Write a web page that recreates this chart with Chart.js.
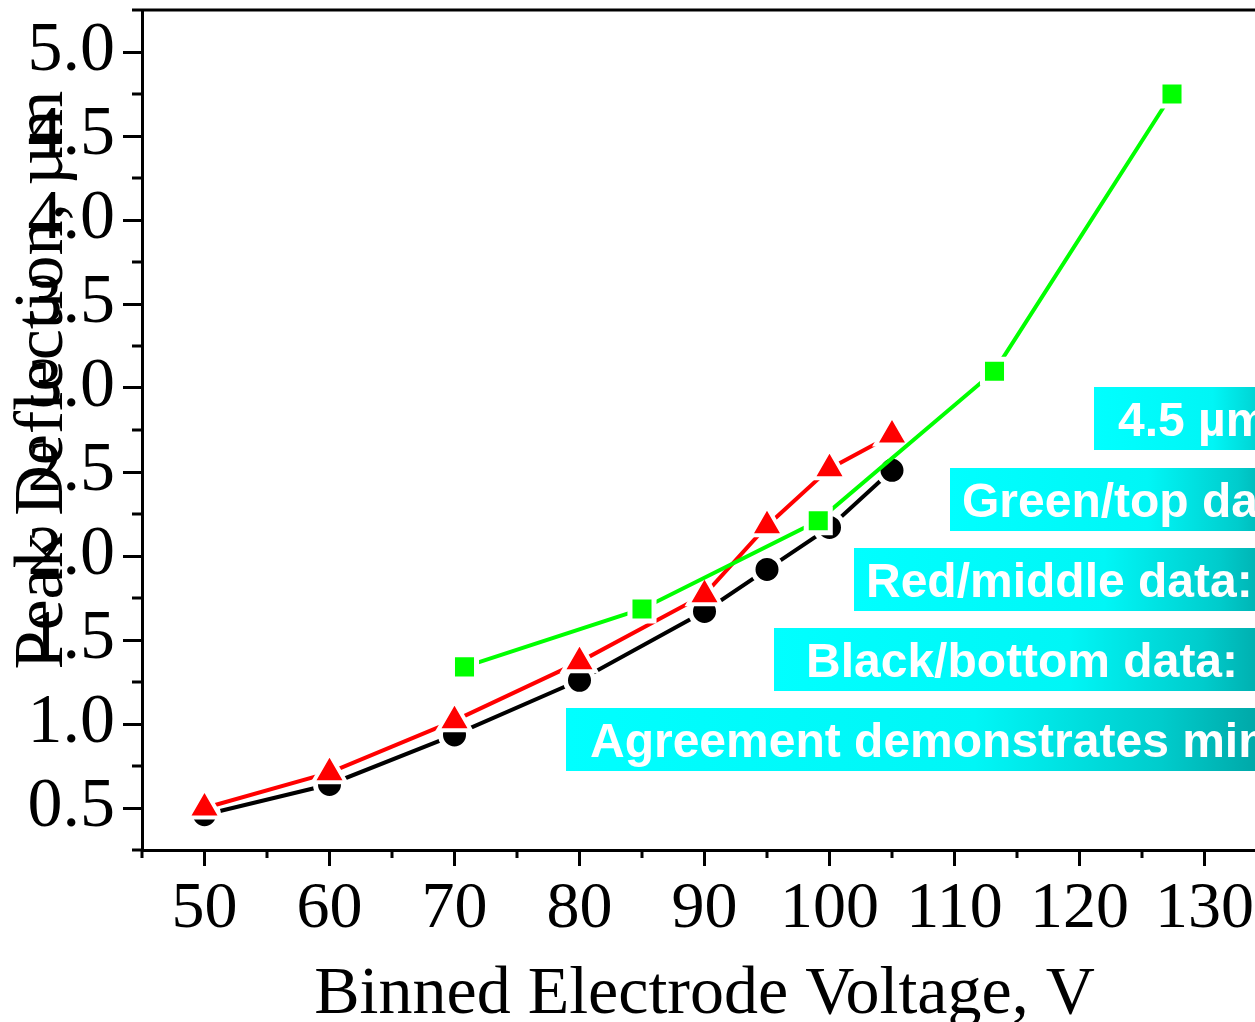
<!DOCTYPE html>
<html>
<head>
<meta charset="utf-8">
<script src="https://cdn.jsdelivr.net/npm/chart.js@4.4.1/dist/chart.umd.min.js"></script>
<style>
  html, body { margin: 0; padding: 0; background: #fff; overflow: hidden; }
  #wrap { width: 1310px; height: 1022px; }
</style>
</head>
<body>
<div id="wrap"><canvas id="myChart" width="1310" height="1022"></canvas></div>
<script>
// Datos
const voltagesBase = [50, 60, 70, 80, 90, 95, 100, 105];
const blackBottom = [0.46, 0.64, 0.935, 1.26, 1.67, 1.92, 2.17, 2.51];
const redMiddle = [0.50, 0.71, 1.02, 1.37, 1.77, 2.18, 2.52, 2.72];
const voltagesGreen = [70.8, 85, 99.1, 113.2, 127.4];
const greenTop = [1.34, 1.685, 2.21, 3.10, 4.75];

const xTicks = [50, 60, 70, 80, 90, 100, 110, 120, 130];
const xMinorTicks = [45, 55, 65, 75, 85, 95, 105, 115, 125, 135];
const yTicks = [0.5, 1.0, 1.5, 2.0, 2.5, 3.0, 3.5, 4.0, 4.5, 5.0];
const yMinorTicks = [0.25, 0.75, 1.25, 1.75, 2.25, 2.75, 3.25, 3.75, 4.25, 4.75, 5.25];

const notes = [
  "4.5 \u00b5m gap data",
  "Green/top data",
  "Red/middle data: ",
  "Black/bottom data: ",
  "Agreement demonstrates minimal"
];

function pts(xs, ys) {
  return xs.map(function(x, i) { return { x: x, y: ys[i] }; });
}

const serif = "'Liberation Serif', 'Times New Roman', serif";

// cajas de texto (posicion en pixeles)
const noteBoxes = [
  { left: 1094, top: 387, textX: 1118 },
  { left: 950, top: 468, textX: 962 },
  { left: 854, top: 548, textX: 866 },
  { left: 774, top: 628, textX: 806 },
  { left: 566, top: 708, textX: 590 }
];

const decorPlugin = {
  id: "decor",
  afterDraw: function(chart) {
    const ctx = chart.ctx;
    const a = chart.chartArea;
    const xs = chart.scales.x;
    const ys = chart.scales.y;
    ctx.save();
    ctx.strokeStyle = "#000";
    ctx.lineWidth = 3;
    // marco superior y derecho
    ctx.beginPath();
    ctx.moveTo(a.left, a.top);
    ctx.lineTo(a.right, a.top);
    ctx.lineTo(a.right, a.bottom);
    ctx.stroke();
    // ticks menores
    ctx.beginPath();
    xMinorTicks.forEach(function(v) {
      const px = xs.getPixelForValue(v);
      ctx.moveTo(px, a.bottom);
      ctx.lineTo(px, a.bottom + 8);
    });
    yMinorTicks.forEach(function(v) {
      const py = ys.getPixelForValue(v);
      ctx.moveTo(a.left, py);
      ctx.lineTo(a.left - 10, py);
    });
    ctx.stroke();

    // titulo eje y (se superpone a las etiquetas)
    ctx.fillStyle = "#000";
    ctx.font = "70px " + serif;
    ctx.textAlign = "center";
    ctx.textBaseline = "alphabetic";
    ctx.translate(62, 380);
    ctx.rotate(-Math.PI / 2);
    ctx.fillText("Peak Deflection, \u00b5m", 0, 0);
    ctx.restore();

    // cajas cian
    ctx.save();
    const right = 1310;
    noteBoxes.forEach(function(b, i) {
      const g = ctx.createLinearGradient(b.left, 0, right, 0);
      g.addColorStop(0, "#00ffff");
      g.addColorStop(0.55, "#00f6f6");
      g.addColorStop(0.8, "#00cccc");
      g.addColorStop(1, "#009494");
      ctx.fillStyle = g;
      ctx.fillRect(b.left, b.top, right - b.left, 63);
      ctx.fillStyle = "#fff";
      ctx.font = "bold 48px 'Liberation Sans', Arial, sans-serif";
      ctx.textAlign = "left";
      ctx.textBaseline = "alphabetic";
      ctx.fillText(notes[i], b.textX, b.top + 49);
    });
    ctx.restore();
  }
};

const data = {
  datasets: [
    {
      label: "Green/top",
      data: pts(voltagesGreen, greenTop),
      borderColor: "#00ff00",
      backgroundColor: "#00ff00",
      borderWidth: 4,
      pointStyle: "rect",
      pointRadius: 17,
      pointBorderColor: "#fff",
      pointBorderWidth: 5,
      order: 0
    },
    {
      label: "Red/middle",
      data: pts(voltagesBase, redMiddle),
      borderColor: "#ff0000",
      backgroundColor: "#ff0000",
      borderWidth: 4,
      pointStyle: "triangle",
      pointRadius: 19,
      pointBorderColor: "#fff",
      pointBorderWidth: 4,
      order: 1
    },
    {
      label: "Black/bottom",
      data: pts(voltagesBase, blackBottom),
      borderColor: "#000",
      backgroundColor: "#000",
      borderWidth: 4,
      pointStyle: "circle",
      pointRadius: 14,
      pointBorderColor: "#fff",
      pointBorderWidth: 5,
      order: 2
    }
  ]
};

const config = {
  type: "line",
  data: data,
  options: {
    responsive: false,
    animation: false,
    devicePixelRatio: 1,
    layout: { autoPadding: false, padding: { top: 10, right: 43, left: 0, bottom: 0 } },
    plugins: { legend: { display: false }, tooltip: { enabled: false } },
    scales: {
      x: {
        type: "linear",
        min: 45,
        max: 135,
        afterFit: function(s) { s.height = 172; s.paddingLeft = 0; s.paddingRight = 0; },
        afterBuildTicks: function(s) { s.ticks = xTicks.map(function(v) { return { value: v }; }); },
        border: { display: true, color: "#000", width: 3 },
        grid: { drawOnChartArea: false, color: "#000", lineWidth: 3, tickLength: 16 },
        ticks: { color: "#000", padding: 4, maxRotation: 0, font: { family: serif, size: 66 } },
        title: {
          display: true,
          text: "Binned Electrode Voltage, V",
          color: "#000",
          padding: 0,
          font: { family: serif, size: 68, lineHeight: 0.8 }
        }
      },
      y: {
        type: "linear",
        min: 0.25,
        max: 5.25,
        afterFit: function(s) { s.width = 142; s.paddingTop = 0; s.paddingBottom = 0; },
        afterBuildTicks: function(s) { s.ticks = yTicks.map(function(v) { return { value: v }; }); },
        border: { display: true, color: "#000", width: 3 },
        grid: { drawOnChartArea: false, color: "#000", lineWidth: 3, tickLength: 19 },
        ticks: {
          color: "#000",
          padding: 8,
          font: { family: serif, size: 70 },
          callback: function(v) { return v.toFixed(1); }
        }
      }
    }
  },
  plugins: [decorPlugin]
};

var myChart = new Chart(document.getElementById("myChart"), config);
</script>
</body>
</html>
